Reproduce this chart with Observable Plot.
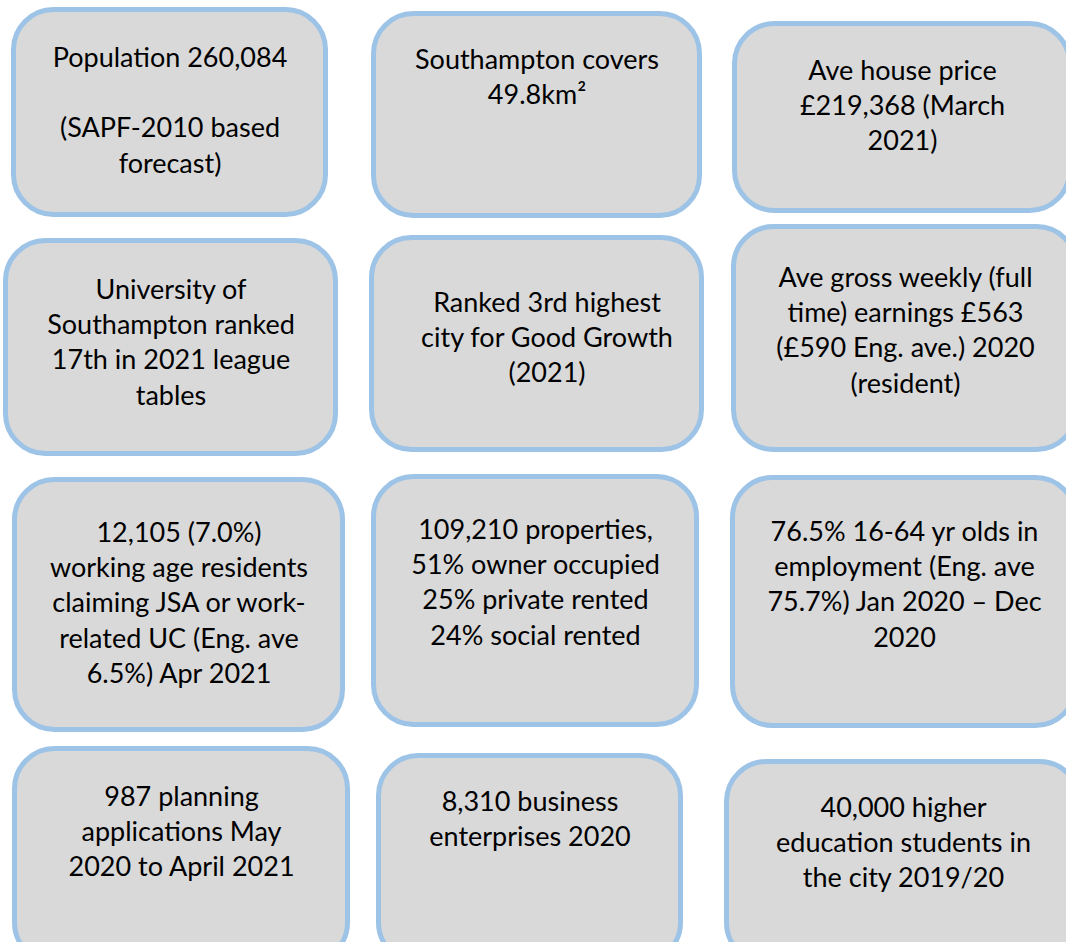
<!DOCTYPE html>
<html>
<head>
<meta charset="utf-8">
<script src="https://cdn.jsdelivr.net/npm/d3@7"></script>
<script src="https://cdn.jsdelivr.net/npm/@observablehq/plot@0.6"></script>
<style>
  html, body { margin: 0; padding: 0; background: #fff; overflow: hidden; }
  #chart svg { overflow: hidden; display: block; }
</style>
</head>
<body>
<div id="chart"></div>
<script>
// Tile texts (reading order: rows left to right)
const tileTexts = [
  "Population 260,084\n\n(SAPF-2010 based\nforecast)",
  "Southampton covers\n49.8km²",
  "Ave house price\n£219,368 (March\n2021)",
  "University of\nSouthampton ranked\n17th in 2021 league\ntables",
  "Ranked 3rd highest\ncity for Good Growth\n(2021)",
  "Ave gross weekly (full\ntime) earnings £563\n(£590 Eng. ave.) 2020\n(resident)",
  "12,105 (7.0%)\nworking age residents\nclaiming JSA or work-\nrelated UC (Eng. ave\n6.5%) Apr 2021",
  "109,210 properties,\n51% owner occupied\n25% private rented\n24% social rented",
  "76.5% 16-64 yr olds in\nemployment (Eng. ave\n75.7%) Jan 2020 – Dec\n2020",
  "987 planning\napplications May\n2020 to April 2021",
  "8,310 business\nenterprises 2020",
  "40,000 higher\neducation students in\nthe city 2019/20"
];

// Layout of the hand-placed tiles (outer stroke edges, px) and first text line centre
const boxLeft   = [11, 371, 732, 3, 369, 731, 12, 371, 730, 12, 376, 724];
const boxRight  = [328, 702, 1072, 338, 704, 1079, 345, 699, 1078, 350, 683, 1082];
const boxTop    = [7, 11, 21, 238, 235, 224, 477, 474, 475, 746, 753, 759];
const boxBottom = [217, 218, 213, 456, 452, 452, 732, 727, 728, 965, 965, 965];
const firstLineY = [55, 57, 68, 287, 300, 275, 530, 527, 529, 794, 799, 805];
const textShift  = [0, 0, 0, 0, 10, 0, 0, 0, 0, 0, 0, 0];

const W = 1066, H = 942, SW = 5, LH = 35.3, FS = 27;

const tiles = tileTexts.map((text, i) => {
  const n = text.split("\n").length;
  return {
    text,
    x1: boxLeft[i] + SW / 2,
    x2: boxRight[i] - SW / 2,
    y1: boxTop[i] + SW / 2,
    y2: boxBottom[i] - SW / 2,
    tx: (boxLeft[i] + boxRight[i]) / 2 + textShift[i],
    ty: firstLineY[i] + (n - 1) * LH / 2
  };
});

const chart = Plot.plot({
  width: W,
  height: H,
  margin: 0,
  x: {domain: [0, W], range: [0, W], axis: null},
  y: {domain: [0, H], range: [0, H], axis: null},
  style: {background: "#ffffff"},
  marks: [
    Plot.rect(tiles, {
      x1: "x1", x2: "x2", y1: "y1", y2: "y2",
      fill: "#d9d9d9", stroke: "#9dc3e6", strokeWidth: SW,
      rx: 40, ry: 40
    }),
    Plot.text(tiles, {
      x: "tx", y: "ty", text: "text",
      fill: "#000000", fontSize: FS, lineHeight: LH / FS,
      lineAnchor: "middle", textAnchor: "middle",
      fontFamily: "Lato, 'Open Sans', sans-serif"
    })
  ]
});
document.getElementById("chart").appendChild(chart);
</script>
</body>
</html>
